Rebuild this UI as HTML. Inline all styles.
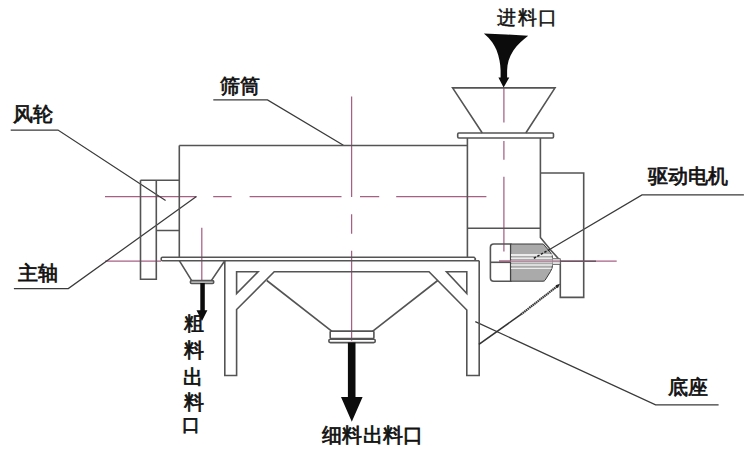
<!DOCTYPE html>
<html><head><meta charset="utf-8">
<style>
html,body{margin:0;padding:0;background:#fff;}
body{width:750px;height:452px;overflow:hidden;position:relative;font-family:"Liberation Sans",sans-serif;}
svg{position:absolute;left:0;top:0;}
.t{position:absolute;font-size:20px;line-height:20px;color:#111;font-weight:400;-webkit-text-stroke:0.75px #111;white-space:nowrap;}
</style></head><body>
<svg width="750" height="452" viewBox="0 0 750 452">
<g fill="none" stroke="#a85f84" stroke-width="1.25">
  <!-- main horizontal centerline -->
  <path d="M105 196.7H196.5M213.2 196.7H231.6M249.6 196.7H341.5M360 196.7H379.2M396.2 196.7H486.4"/>
  <!-- lower left pink -->
  <path d="M105 261H161"/>
  <!-- vertical screen center -->
  <path d="M351.6 96.5V197M351.6 214.2V233.7M351.6 250.8V340.7"/>
  <!-- coarse vertical -->
  <path d="M201.8 227.8V281"/>
  <!-- feed vertical -->
  <path d="M503.9 88V122.4M503.9 140.9V159.8M503.9 176.7V251.5"/>
  <!-- motor horizontal -->
  <path d="M499 261.2H616.7"/>
</g>
<g fill="none" stroke="#545454" stroke-width="1.6">
  <!-- leaders -->
  <g stroke="#3a3a3a" stroke-width="1.25">
  <path d="M213.3 99.9H267.5L343.4 145.2"/>
  <path d="M10.7 130H58L165.6 200.4"/>
  <path d="M13.9 288.6H68.3L196.4 196.5"/>
  <path d="M743.9 194.9H642L550 249.3"/>
  <path d="M718.6 404.8H655.6L475.3 321.6"/>
  </g>
  <!-- fan box -->
  <path d="M140.5 180.2H179.3M140.5 180.2V279.2H156.3V180.2M156.3 230.5H179.3"/>
  <!-- cylinder -->
  <path d="M179.3 145.5H467.4M179.3 145.5V257.2"/>
  <!-- feed column -->
  <path d="M467.4 138V257.2M540.4 138V237.4L551.3 250.7L560.3 260.7V297.4H583.7V173H540.4M467.4 228.3H540.4"/>
  <!-- flange -->
  <rect x="457.7" y="133" width="95.8" height="5" rx="1.2"/>
  <!-- hopper -->
  <path d="M482.3 133L452.6 87.9H555L525.8 133"/>
  <!-- platform -->
  <path d="M162.5 257.2H474L475.3 258.5V259.5L474.3 260.7H479.2M162.5 257.2Q161.2 257.2 161.2 258.5V259.4Q161.2 260.7 162.5 260.7H479.2"/>
  <!-- coarse hopper -->
  <path d="M179.3 260.7L191.7 280.6M224.8 260.7L211.3 280.6"/>
  <rect x="190.4" y="280.6" width="23.3" height="2.9" rx="1.2" fill="#d4d4d4"/>
  <!-- stand -->
  <path d="M224.8 260.7V375.5H236.6V309.5L274.2 271.8H429L466.8 310V375.5H479.2V260.7"/>
  <path d="M236.6 271.8H258.1L236.6 293.6Z"/>
  <path d="M466.8 271.8H446.5L466.8 293.5Z"/>
  <!-- fine hopper -->
  <path d="M266.8 280.5L332 331.4M437.7 280.5L372.5 331.4"/>
  <rect x="330.2" y="331.1" width="43.7" height="7.5" rx="1"/>
  <rect x="328.8" y="339.3" width="46.5" height="3.3" rx="1.6"/>
  <!-- belt -->
  <path d="M478.9 344.3L521 314.4" stroke="#333"/>
  <path d="M521 314.4L557.5 286" stroke="#3a3a3a" stroke-width="2.2" stroke-dasharray="1.6 0.5"/>
  <path d="M560 283.8L555.5 285.2L557.8 288.3Z" fill="#222" stroke="none"/>
  <!-- motor -->
  <path d="M510.7 244H493.8Q490.4 244 490.4 247.4V277.8Q490.4 281.2 493.8 281.2H510.7Z"/>
  <path d="M490.4 262.3H510.7"/>
</g>
<!-- motor body -->
<path d="M510.7 244H543.3L550.3 252.3Q552.6 255 552.6 258.5V264.5Q552.6 268 550.5 271.5L545 280.3Q544.5 281.2 543 281.2H510.7Z" fill="#aaaaaa" stroke="#3a3a3a" stroke-width="1"/>
<g stroke="#ececec">
  <path d="M511 255H551.8" stroke-width="1.8"/>
  <path d="M511 258.2H552.4" stroke-width="1.5"/>
  <path d="M511 261.4H552.4" stroke-width="2.2"/>
  <path d="M511 265H552.4" stroke-width="1.4"/>
  <path d="M511 268.3H551.5" stroke-width="1.3"/>
</g>
<path d="M552.5 258.6H560.3V264.5H552.5" fill="#ddd" stroke="#555" stroke-width="0.8"/>
<path d="M560.3 261.2H596" stroke="#6a5560" stroke-width="1.4"/>
<path d="M499 261.2H560" stroke="#a56c88" stroke-width="1.3"/>
<path d="M550 249.3L532.8 258.8" stroke="#222" stroke-width="1.5" stroke-dasharray="2.5 1.5"/>
<!-- arrows -->
<g fill="#0c0c0c" stroke="none">
  <path d="M483.9 33.4L506.3 34.4L528.2 35.8L524.2 39L520.5 42.2L516.6 46.2L513.4 50.6L510.6 55.5L508.6 60.5L507.5 65.5L507.1 70.5L507.1 77.5H509.3L503.6 87.6L498.4 77.5H500.6L500.6 70.5L500.2 65L499.5 60.5L498.2 55L496.5 50L494.5 46L492.2 42.2L488.5 37.8Z"/>
  <path d="M200.3 283H204.8V310.2H207.4L202 321L196.5 310.2H200.3Z"/>
  <path d="M347.9 342.6H355.5V396.9H362.6L351.8 421.7L341 396.9H347.9Z"/>
</g>
</svg>
<div class="t" style="left:497px;top:7.5px;font-size:19px;letter-spacing:1.5px;-webkit-text-stroke:0.5px #111">进料口</div>
<div class="t" style="left:220px;top:75.5px">筛筒</div>
<div class="t" style="left:12.6px;top:104px">风轮</div>
<div class="t" style="left:647.5px;top:166px">驱动电机</div>
<div class="t" style="left:18px;top:263px">主轴</div>
<div class="t" style="left:667.6px;top:377px">底座</div>
<div class="t" style="left:322px;top:424.5px;letter-spacing:0.3px">细料出料口</div>
<div class="t" style="left:183.5px;top:313.2px">粗</div>
<div class="t" style="left:183.5px;top:340.2px">料</div>
<div class="t" style="left:182.8px;top:367.2px">出</div>
<div class="t" style="left:183.5px;top:391.8px">料</div>
<div class="t" style="left:181.9px;top:415.4px;font-size:18px">口</div>
</body></html>
